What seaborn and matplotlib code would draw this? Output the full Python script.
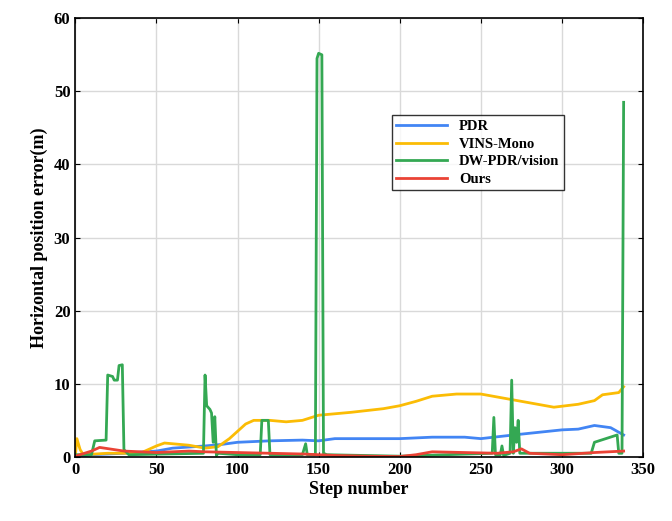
import matplotlib
matplotlib.use("Agg")
import matplotlib.pyplot as plt
import seaborn as sns
import pandas as pd

pdr_x = [0,10,30,50,60,80,90,100,120,140,150,160,180,200,220,240,250,270,300,310,320,330,338]
pdr_y = [0,0.3,0.5,0.8,1.2,1.5,1.7,2.0,2.2,2.3,2.2,2.5,2.5,2.5,2.7,2.7,2.5,3.0,3.7,3.8,4.3,4.0,3.0]
vins_x = [0,1,3,5,20,30,40,50,55,70,80,88,95,100,105,110,120,130,140,150,170,190,200,210,220,235,250,260,280,295,310,320,325,335,338]
vins_y = [0,2.5,1,0.3,0.5,0.5,0.5,1.5,1.9,1.6,1.2,1.4,2.5,3.5,4.5,5,5,4.8,5,5.7,6.1,6.6,7,7.6,8.3,8.6,8.6,8.2,7.4,6.8,7.2,7.7,8.5,8.8,9.6]
dw_x = [0,10,12,19,20,23,24,26,27,29,30,33,79,80,81,83,84,85,86,87,88,100,114,115,119,120,140,142,143,148,149,150,152,153,155,200,257,258,259,262,263,264,268,269,270,271,272,273,274,318,320,334,335,337,338]
dw_y = [0.3,0.3,2.2,2.3,11.2,11,10.5,10.5,12.5,12.6,1,0.3,0.5,11.2,7,6.5,6,2,5.5,0.2,0.5,0.3,0.3,5,5,0.3,0.3,1.8,0.3,0.3,54.5,55.2,55,0.5,0.3,0.1,0.5,5.4,0.3,0.3,1.5,0.2,0.5,10.5,0.5,4,2,5,0.5,0.5,2,3,0.5,0.5,48.5]
ours_x = [0,10,15,30,50,70,80,100,120,140,160,180,200,210,220,240,260,270,275,280,300,320,338]
ours_y = [0.1,0.8,1.3,0.8,0.6,0.8,0.7,0.6,0.5,0.4,0.2,0.1,0.05,0.3,0.7,0.6,0.5,0.7,1.1,0.5,0.3,0.6,0.8]

series = [("PDR", pdr_x, pdr_y, "#4285f4"), ("VINS-Mono", vins_x, vins_y, "#fbbc05"),
          ("DW-PDR/vision", dw_x, dw_y, "#34a853"), ("Ours", ours_x, ours_y, "#ea4335")]

plt.rcParams["font.family"] = "Liberation Serif"
plt.rcParams["font.weight"] = "bold"
fig = plt.figure(figsize=(6.72, 5.21), dpi=100)
ax = fig.add_axes([0.112, 0.123, 0.845, 0.842])
for name, xs, ys, c in series:
    df = pd.DataFrame({"x": xs, "y": ys})
    sns.lineplot(data=df, x="x", y="y", ax=ax, color=c, lw=2, label=name, sort=False, estimator=None)
ax.set_xlim(0, 350); ax.set_ylim(0, 60)
ax.set_xticks(range(0, 351, 50)); ax.set_yticks(range(0, 61, 10))
ax.grid(True, color="#d9d9d9", lw=1)
ax.tick_params(direction="in", top=True, right=True, labelsize=12)
for s in ax.spines.values():
    s.set_linewidth(1.2)
ax.set_xlabel("Step number", fontsize=13, fontweight="bold", labelpad=2)
ax.set_ylabel("Horizontal position error(m)", fontsize=13, fontweight="bold")
leg = ax.legend(loc="upper left", bbox_to_anchor=(0.545, 0.795), frameon=True, fancybox=False,
                edgecolor="black", fontsize=10.5, handlelength=3.5, borderpad=0.3, labelspacing=0.3)
leg.get_frame().set_linewidth(1)
fig.savefig("out.png", dpi=100)
